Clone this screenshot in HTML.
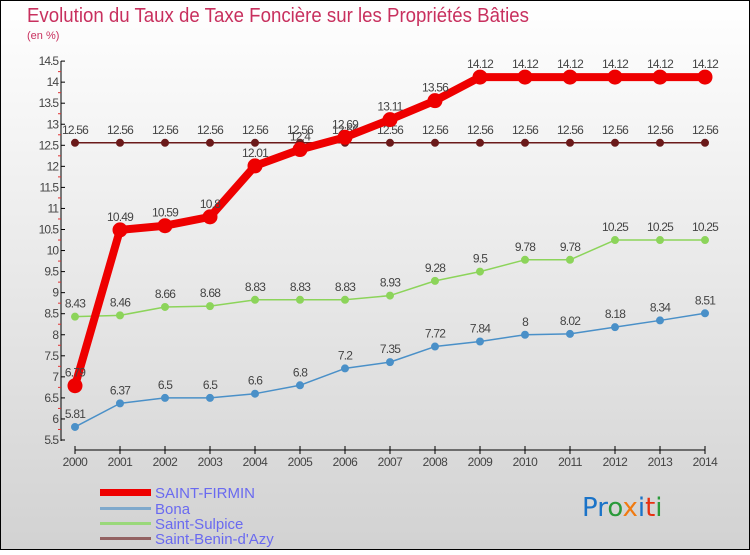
<!DOCTYPE html>
<html><head><meta charset="utf-8"><style>
body{margin:0;width:750px;height:550px;overflow:hidden;font-family:"Liberation Sans",sans-serif}
</style></head><body>
<svg id="chart" width="750" height="550" xmlns="http://www.w3.org/2000/svg" font-family="Liberation Sans, sans-serif">
<defs><linearGradient id="bg" x1="0" y1="0" x2="0" y2="1"><stop offset="0" stop-color="#ffffff"/><stop offset="1" stop-color="#d2d2d2"/></linearGradient></defs>
<rect x="0.5" y="0.5" width="749" height="549" fill="url(#bg)" stroke="#000" stroke-width="1"/>
<text x="27" y="22" font-size="20" fill="#c8305e" textLength="502" lengthAdjust="spacingAndGlyphs">Evolution du Taux de Taxe Foncière sur les Propriétés Bâties</text>
<text x="27" y="39" font-size="11" fill="#c8305e">(en %)</text>
<g id="axes"></g><g id="series"></g>
<g>
<rect x="100" y="489" width="51" height="7" fill="#ee0000"/>
<text x="155" y="498" font-size="15" fill="#6a6af0">SAINT-FIRMIN</text>
<rect x="100" y="507" width="51" height="3" fill="#7fa9cc"/>
<text x="155" y="514" font-size="15" fill="#6a6af0">Bona</text>
<rect x="100" y="522" width="51" height="3" fill="#9ad87a"/>
<text x="155" y="529" font-size="15" fill="#6a6af0">Saint-Sulpice</text>
<rect x="100" y="537" width="51" height="3" fill="#936262"/>
<text x="155" y="544" font-size="15" fill="#6a6af0">Saint-Benin-d'Azy</text>
</g>
<g font-size="26" font-family="DejaVu Sans, sans-serif">
<text x="582" y="516"><tspan fill="#1a73c8">Pr</tspan><tspan fill="#2a9a3a">o</tspan><tspan fill="#f07a10">x</tspan><tspan fill="#1a73c8">i</tspan><tspan fill="#e83010">t</tspan><tspan fill="#2a9a3a">i</tspan></text>
</g>
</svg>
<script>
const years=[2000,2001,2002,2003,2004,2005,2006,2007,2008,2009,2010,2011,2012,2013,2014];
const saintFirmin=[6.79,10.49,10.59,10.8,12.01,12.4,12.69,13.11,13.56,14.12,14.12,14.12,14.12,14.12,14.12];
const bona=[5.81,6.37,6.5,6.5,6.6,6.8,7.2,7.35,7.72,7.84,8,8.02,8.18,8.34,8.51];
const saintSulpice=[8.43,8.46,8.66,8.68,8.83,8.83,8.83,8.93,9.28,9.5,9.78,9.78,10.25,10.25,10.25];
const saintBenin=[12.56,12.56,12.56,12.56,12.56,12.56,12.56,12.56,12.56,12.56,12.56,12.56,12.56,12.56,12.56];
const yTicks=[5.5,6,6.5,7,7.5,8,8.5,9,9.5,10,10.5,11,11.5,12,12.5,13,13.5,14,14.5];
const NS="http://www.w3.org/2000/svg";
const x=y=>75+(y-2000)*45;
const yy=v=>440-(v-5.5)*42.1;
function mk(tag,attrs,parent,txt){const e=document.createElementNS(NS,tag);for(const k in attrs)e.setAttribute(k,attrs[k]);if(txt!==undefined)e.textContent=txt;parent.appendChild(e);return e;}
const ax=document.getElementById('axes');
let l=mk('line',{x1:61,y1:61,x2:61,y2:441,stroke:'#000'},ax);


l=mk('line',{x1:75,y1:450,x2:705,y2:450,stroke:'#000'},ax);


yTicks.forEach((v,i)=>{
 mk('line',{x1:61,y1:yy(v),x2:65,y2:yy(v),stroke:'#000'},ax);
 if(i<yTicks.length-1) mk('line',{x1:58,y1:yy(v+0.25),x2:61,y2:yy(v+0.25),stroke:'#e03030'},ax);
 const t=mk('text',{x:58,y:yy(v)+4,'font-size':12,'text-anchor':'end',fill:'#444','letter-spacing':'-1'},ax,String(v));
 
 
});
years.forEach(y=>{
 mk('line',{x1:x(y),y1:446,x2:x(y),y2:454,stroke:'#000'},ax);
 const t=mk('text',{x:x(y),y:466,'font-size':12,'text-anchor':'middle',fill:'#444','letter-spacing':'-0.5'},ax,String(y));
 
 
});
const sg=document.getElementById('series');
function series(name,data,color,w,r,fill){
 const g=mk('g',{},sg);
 
 
 const p=mk('polyline',{points:data.map((v,i)=>x(years[i])+','+yy(v)).join(' '),fill:'none',stroke:color,'stroke-width':w,'stroke-linejoin':'round'},g);
 
 
 data.forEach((v,i)=>{
  const c=mk('circle',{cx:x(years[i]),cy:yy(v),r:r,fill:fill,stroke:color,'stroke-width':1},g);
  
  
  const t=mk('text',{x:x(years[i]),y:yy(v)-9,'font-size':12,'text-anchor':'middle',fill:'#444','letter-spacing':'-0.8'},g,String(v));
  
  
 });
}
series('saint-benin',saintBenin,'#6b1a1a',1.5,3.5,'#6b1a1a');
series('saint-sulpice',saintSulpice,'#8cd45a',1.5,3.5,'#8cd45a');
series('bona',bona,'#4a90c8',1.5,3.5,'#4a90c8');
series('saint-firmin',saintFirmin,'#ee0000',8,7,'#ee0000');
</script>
</body></html>
